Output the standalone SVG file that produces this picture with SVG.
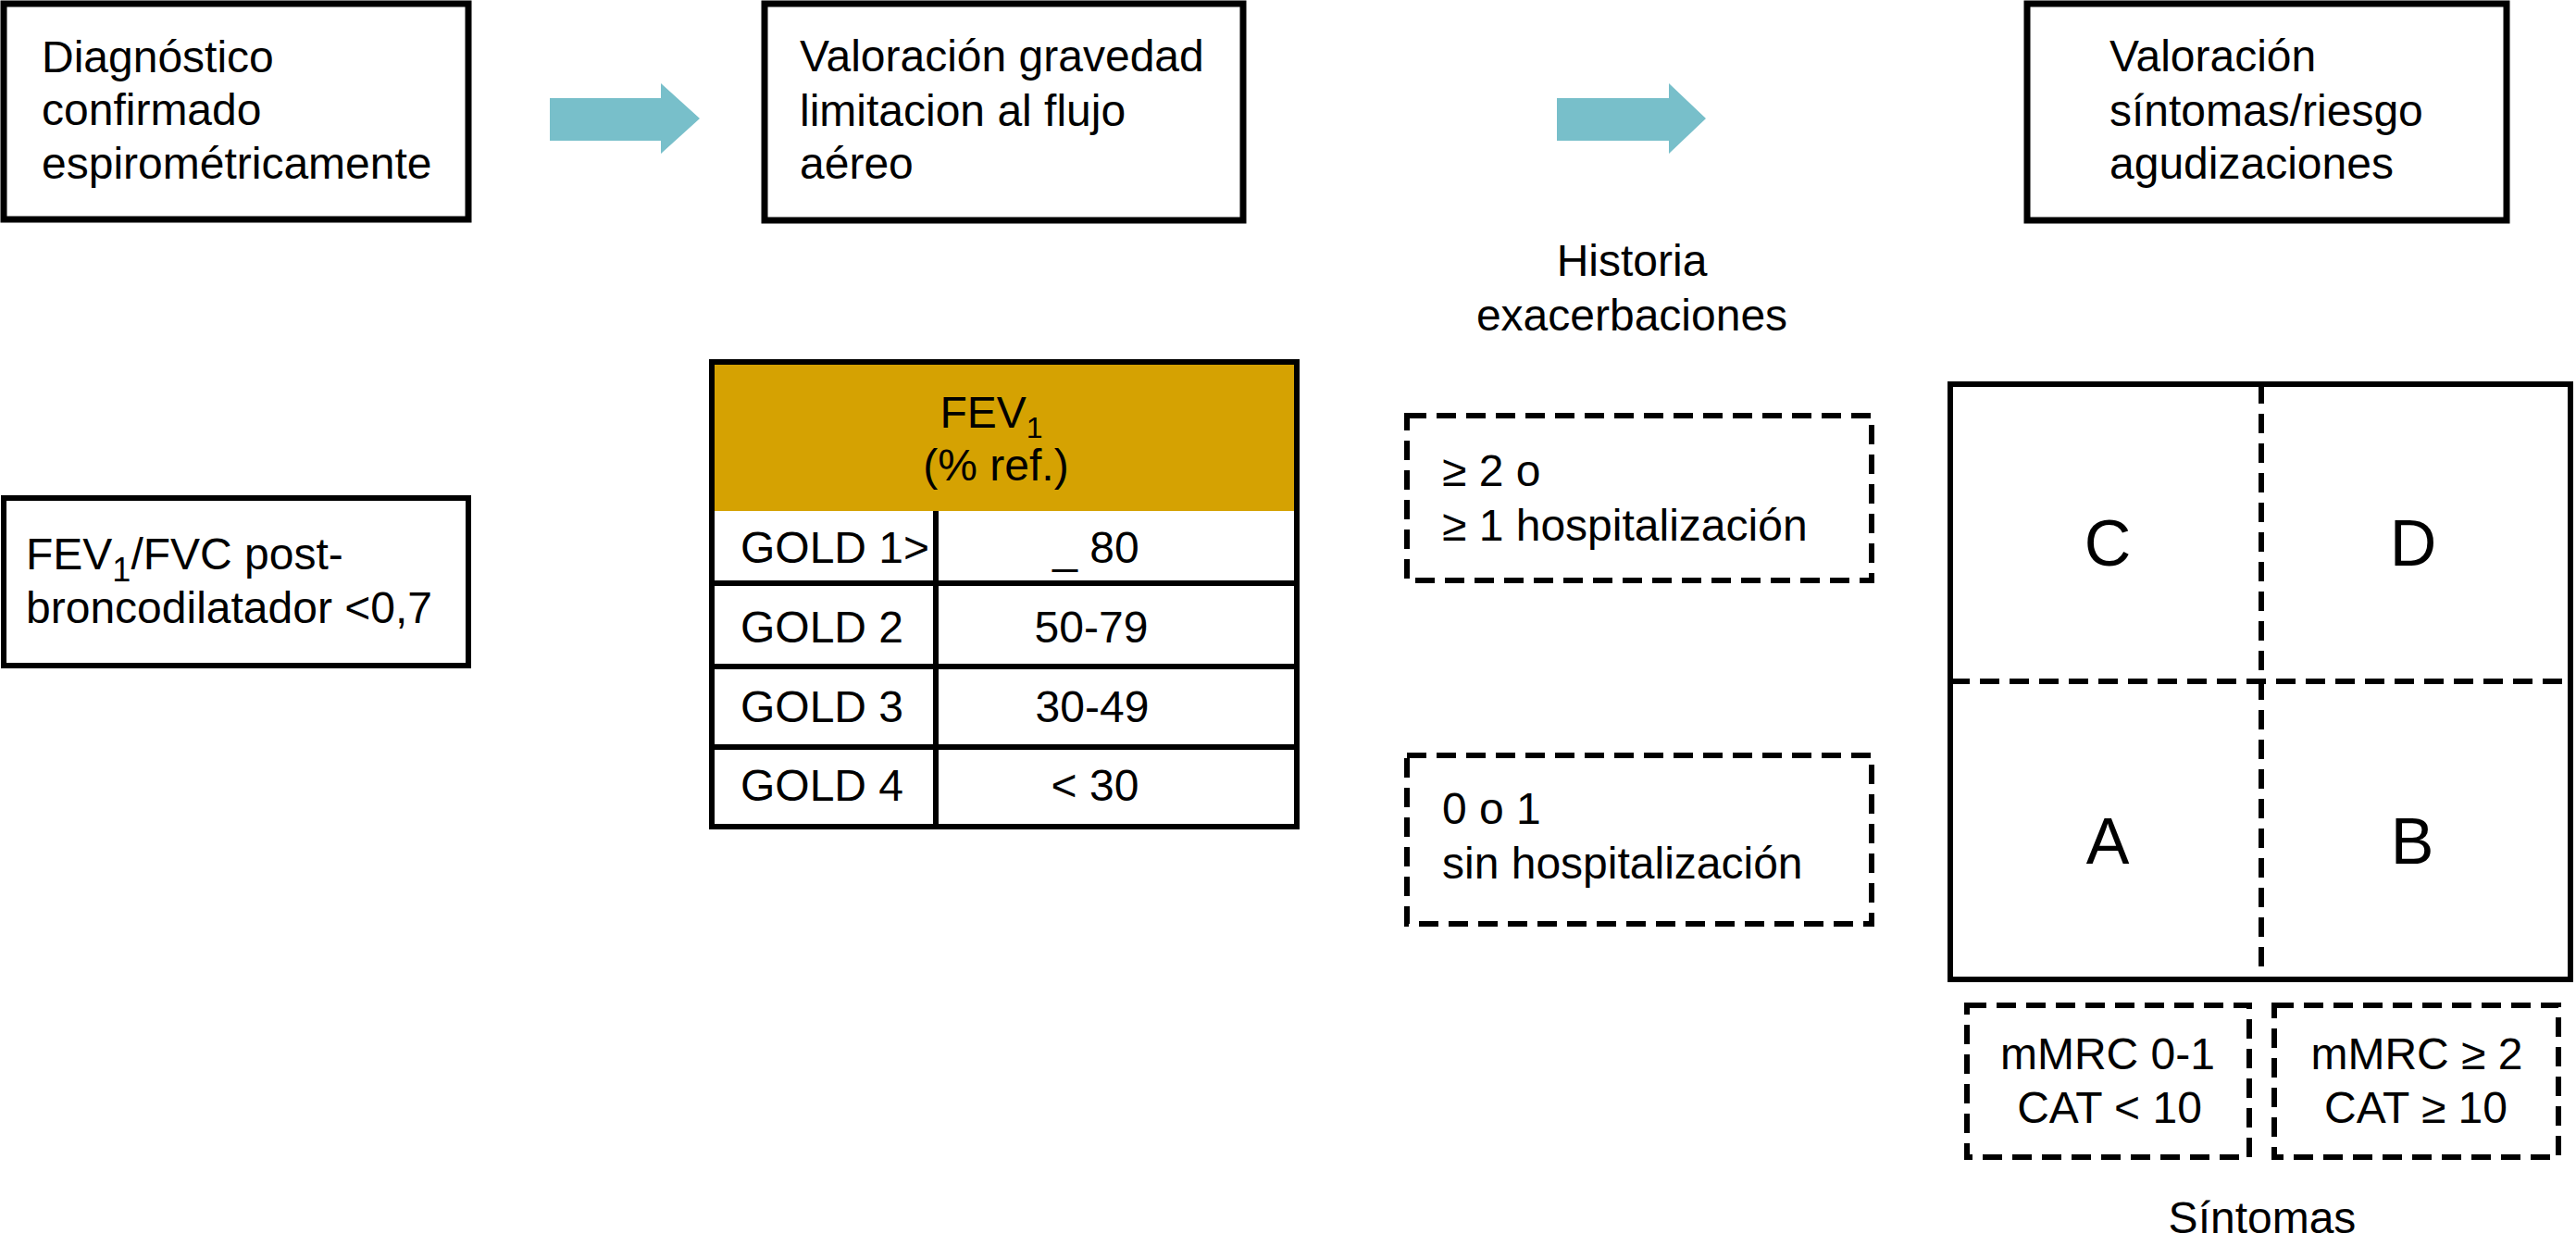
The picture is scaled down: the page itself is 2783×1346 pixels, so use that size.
<svg xmlns="http://www.w3.org/2000/svg" width="2783" height="1346" viewBox="0 0 2783 1346">
<style>
  text { font-family: "Liberation Sans", Arial, sans-serif; font-size: 48px; fill: #000; }
  .c { text-anchor: middle; }
  .box { fill: #fff; stroke: #000; stroke-width: 7; }
  .box-thin { fill: #fff; stroke: #000; stroke-width: 6; }
  .dash { fill: none; stroke: #000; stroke-width: 6; stroke-dasharray: 21 11; }
  .line { stroke: #000; stroke-width: 6; fill: none; }
  .arrow { fill: #78BFCA; }
  .gold { fill: #D5A202; }
  .letter { font-size: 70px; }
</style>
<rect width="2783" height="1346" fill="#fff"/>

<g id="connectors">
  <polygon class="arrow" points="594,106 714,106 714,90 756,128 714,166 714,152 594,152"/>
  <polygon class="arrow" points="1682,106 1803,106 1803,90 1843,128 1803,166 1803,152 1682,152"/>
</g>

<g id="diagnostico">
  <rect class="box" x="4" y="4" width="502" height="233"/>
  <text x="45" y="78">Diagnóstico</text>
  <text x="45" y="135">confirmado</text>
  <text x="45" y="193">espirométricamente</text>
</g>

<g id="valoracion-gravedad">
  <rect class="box" x="826" y="4" width="517" height="234"/>
  <text x="864" y="77">Valoración gravedad</text>
  <text x="864" y="136">limitacion al flujo</text>
  <text x="864" y="193">aéreo</text>
</g>

<g id="valoracion-sintomas">
  <rect class="box" x="2190" y="4" width="518" height="234"/>
  <text x="2279" y="77">Valoración</text>
  <text x="2279" y="136">síntomas/riesgo</text>
  <text x="2279" y="193">agudizaciones</text>
</g>

<g id="fev-fvc">
  <rect class="box-thin" x="4" y="538" width="502" height="181"/>
  <text x="28" y="615">FEV<tspan font-size="36" dy="13">1</tspan><tspan dy="-13">/FVC post-</tspan></text>
  <text x="28" y="673">broncodilatador &lt;0,7</text>
</g>

<g id="historia">
  <text class="c" x="1763" y="298">Historia</text>
  <text class="c" x="1763" y="357">exacerbaciones</text>
</g>

<g id="tabla-gold">
  <rect class="box-thin" x="769" y="391" width="632" height="502"/>
  <rect class="gold" x="772" y="394" width="626" height="158"/>
  <line class="line" x1="769" y1="630" x2="1401" y2="630"/>
  <line class="line" x1="769" y1="720" x2="1401" y2="720"/>
  <line class="line" x1="769" y1="807" x2="1401" y2="807"/>
  <line class="line" x1="1011" y1="552" x2="1011" y2="893"/>
  <text class="c" x="1071" y="462">FEV<tspan font-size="32" dy="11">1</tspan></text>
  <text class="c" x="1076" y="519">(% ref.)</text>
  <text x="800" y="608">GOLD 1&gt;</text>
  <text class="c" x="1184" y="608">_ 80</text>
  <text x="800" y="694">GOLD 2</text>
  <text class="c" x="1179" y="694">50-79</text>
  <text x="800" y="780">GOLD 3</text>
  <text class="c" x="1180" y="780">30-49</text>
  <text x="800" y="865">GOLD 4</text>
  <text class="c" x="1183" y="865">&lt; 30</text>
</g>

<g id="exacerbaciones-alta">
  <rect class="dash" x="1520" y="449" width="502" height="178"/>
  <text x="1558" y="525">≥ 2 o</text>
  <text x="1558" y="584">≥ 1 hospitalización</text>
</g>

<g id="exacerbaciones-baja">
  <rect class="dash" x="1520" y="816" width="502" height="182"/>
  <text x="1558" y="890">0 o 1</text>
  <text x="1558" y="949">sin hospitalización</text>
</g>

<g id="matriz-abcd">
  <rect class="box-thin" x="2107" y="415" width="670" height="643"/>
  <line class="dash" x1="2443" y1="415" x2="2443" y2="1058"/>
  <line class="dash" x1="2107" y1="736" x2="2777" y2="736"/>
  <text class="c letter" x="2277" y="611">C</text>
  <text class="c letter" x="2607" y="611">D</text>
  <text class="c letter" x="2277" y="933">A</text>
  <text class="c letter" x="2606" y="933">B</text>
</g>

<g id="sintomas-bajo">
  <rect class="dash" x="2125" y="1086" width="305" height="164"/>
  <text class="c" x="2277" y="1155">mMRC 0-1</text>
  <text class="c" x="2279" y="1213">CAT &lt; 10</text>
</g>

<g id="sintomas-alto">
  <rect class="dash" x="2457" y="1086" width="307" height="164"/>
  <text class="c" x="2611" y="1155">mMRC ≥ 2</text>
  <text class="c" x="2610" y="1213">CAT ≥ 10</text>
</g>

<g id="sintomas-label">
  <text class="c" x="2444" y="1332">Síntomas</text>
</g>
</svg>
